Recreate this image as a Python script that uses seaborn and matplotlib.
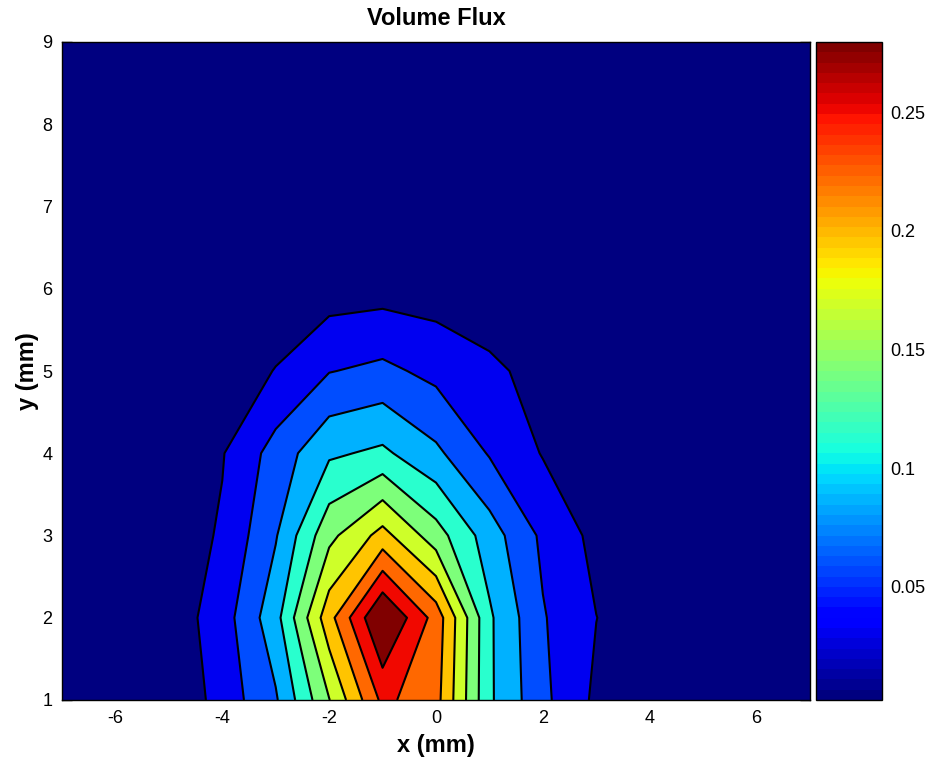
import numpy as np
import matplotlib
matplotlib.use("Agg")
import matplotlib.pyplot as plt
from matplotlib.colors import ListedColormap, BoundaryNorm, Normalize
import seaborn as sns

# grid (mm)
x_mm = [-7, -6, -5, -4, -3, -2, -1, 0, 1, 2, 3, 4, 5, 6, 7]
y_mm = [1, 2, 3, 4, 5, 6, 7, 8, 9]

# volume flux, one row per y value
flux_y1 = [0.004, 0.003, 0.0024, 0.035, 0.072, 0.149, 0.231, 0.209, 0.104, 0.056, 0.020, 0.008, 0.005, 0.004, 0.003]
flux_y2 = [0.004, 0.005, 0.010, 0.038, 0.091, 0.191, 0.2795, 0.215, 0.104, 0.052, 0.0253, 0.010, 0.005, 0.004, 0.003]
flux_y3 = [0.004, 0.005, 0.010, 0.028, 0.073, 0.143, 0.184, 0.136, 0.087, 0.045, 0.018, 0.008, 0.005, 0.004, 0.003]
flux_y4 = [0.003, 0.004, 0.006, 0.0235, 0.060, 0.096, 0.105, 0.080, 0.048, 0.0235, 0.010, 0.005, 0.004, 0.003, 0.003]
flux_y5 = [0.003, 0.003, 0.004, 0.010, 0.026, 0.049, 0.056, 0.043, 0.031, 0.015, 0.006, 0.004, 0.003, 0.003, 0.003]
flux_y6 = [0.003, 0.003, 0.003, 0.004, 0.008, 0.013, 0.015, 0.013, 0.006, 0.004, 0.003, 0.003, 0.003, 0.003, 0.003]
flux_y7 = [0.003, 0.003, 0.003, 0.003, 0.004, 0.005, 0.006, 0.005, 0.004, 0.003, 0.003, 0.003, 0.003, 0.003, 0.003]
flux_y8 = [0.003, 0.003, 0.003, 0.003, 0.003, 0.004, 0.004, 0.004, 0.003, 0.003, 0.003, 0.003, 0.003, 0.003, 0.003]
flux_y9 = [0.003, 0.003, 0.003, 0.003, 0.003, 0.003, 0.003, 0.003, 0.003, 0.003, 0.003, 0.003, 0.003, 0.003, 0.003]

levels = [0.025, 0.05, 0.075, 0.1, 0.125, 0.15, 0.175, 0.2, 0.225, 0.25]
cbar_ticks = [0.05, 0.1, 0.15, 0.2, 0.25]

sns.set_theme(style="ticks")
plt.rcParams['font.family'] = ['Liberation Sans', 'DejaVu Sans']
plt.rcParams['axes.unicode_minus'] = False
plt.rcParams['text.color'] = 'black'
plt.rcParams['axes.labelcolor'] = 'black'

flux = np.array([flux_y1, flux_y2, flux_y3, flux_y4, flux_y5,
                 flux_y6, flux_y7, flux_y8, flux_y9])
zmin, zmax = flux.min(), flux.max()

# MATLAB style: each filled band gets one colour of jet
bounds = [zmin] + levels + [zmax]
band_colors = plt.get_cmap('jet')(np.linspace(0, 1, len(bounds) - 1))
band_cmap = ListedColormap(band_colors)
band_norm = BoundaryNorm(bounds, band_cmap.N)

fig = plt.figure(figsize=(9.28, 7.59), dpi=100)
ax = fig.add_axes([62/928, 59/759, 748/928, 658/759])
cax = fig.add_axes([816/928, 59/759, 66/928, 658/759])

X, Y = np.meshgrid(x_mm, y_mm)
ax.contourf(X, Y, flux, levels=bounds, cmap=band_cmap, norm=band_norm)
ax.contour(X, Y, flux, levels=levels, colors='black', linewidths=1.5)

ax.set_xlim(-7, 7)
ax.set_ylim(1, 9)
ax.set_xticks([-6, -4, -2, 0, 2, 4, 6])
ax.set_yticks([1, 2, 3, 4, 5, 6, 7, 8, 9])
ax.tick_params(direction='in', top=True, right=True, length=7, width=1,
               labelsize=13, colors='black', pad=7)
for s in ax.spines.values():
    s.set_linewidth(1)
    s.set_color('black')

ax.set_title("Volume Flux", fontsize=17, fontweight='bold', pad=12)
ax.set_xlabel("x (mm)", fontsize=17, fontweight='bold', labelpad=5)
ax.set_ylabel("y (mm)", fontsize=17, fontweight='bold', labelpad=2)

sm = plt.cm.ScalarMappable(norm=Normalize(zmin, zmax), cmap=plt.get_cmap('jet', 64))
cb = fig.colorbar(sm, cax=cax, ticks=cbar_ticks)
cb.ax.set_yticklabels([f"{t:g}" for t in cbar_ticks])
cb.ax.tick_params(direction='in', left=True, right=True, length=5, width=1,
                  labelsize=13, colors='black', pad=6)
cb.outline.set_linewidth(1)
cb.outline.set_edgecolor('black')

fig.savefig("out.png", dpi=100)
